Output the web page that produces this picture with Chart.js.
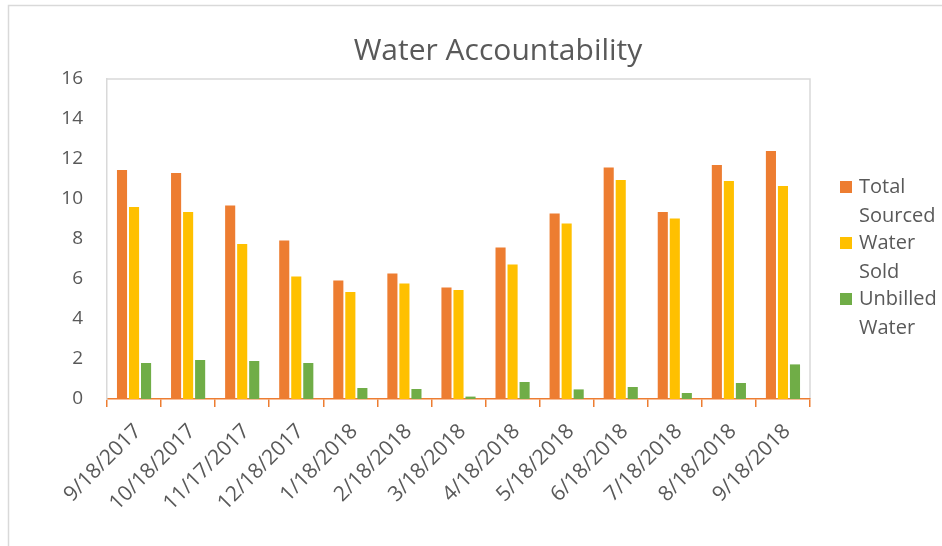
<!DOCTYPE html>
<html>
<head>
<meta charset="utf-8">
<title>Water Accountability</title>
<script src="https://cdn.jsdelivr.net/npm/chart.js@4.4.0/dist/chart.umd.min.js"></script>
<style>
  html, body { margin: 0; padding: 0; background: #fff; }
  #wrap { width: 942px; height: 546px; }
</style>
</head>
<body>
<div id="wrap"><canvas id="waterChart" width="942" height="546"></canvas></div>
<script>
// data
const dates = ['9/18/2017', '10/18/2017', '11/17/2017', '12/18/2017', '1/18/2018', '2/18/2018',
  '3/18/2018', '4/18/2018', '5/18/2018', '6/18/2018', '7/18/2018', '8/18/2018', '9/18/2018'];
const totalSourced = [11.45, 11.3, 9.67, 7.93, 5.93, 6.28, 5.57, 7.58, 9.28, 11.57, 9.35, 11.7, 12.4];
const waterSold = [9.6, 9.35, 7.75, 6.12, 5.35, 5.77, 5.45, 6.73, 8.78, 10.95, 9.03, 10.9, 10.65];
const unbilledWater = [1.8, 1.95, 1.9, 1.8, 0.55, 0.5, 0.12, 0.85, 0.48, 0.6, 0.3, 0.8, 1.73];
const seriesNames = ['Total Sourced', 'Water Sold', 'Unbilled Water'];
const chartTitle = 'Water Accountability';

const textColor = '#595959';
const frameColor = '#d9d9d9';
const fontFamily = '"Open Sans", "Noto Sans", sans-serif';

// frame lines, title and wrapped legend (Chart.js legend can't wrap labels)
const decorPlugin = {
    id: 'decor',
    beforeDraw(chart) {
        const c = chart.ctx;
        const a = chart.chartArea;
        c.save();
        c.strokeStyle = frameColor;
        c.lineWidth = 1.5;
        c.beginPath();
        c.moveTo(8.5, 546);
        c.lineTo(8.5, 5.5);
        c.lineTo(942, 5.5);
        c.stroke();
        c.beginPath();
        c.moveTo(a.left, a.top);
        c.lineTo(a.right, a.top);
        c.lineTo(a.right, a.bottom);
        c.stroke();
        c.restore();
    },
    afterDraw(chart) {
        const c = chart.ctx;
        c.save();
        c.fillStyle = textColor;
        c.font = '30px ' + fontFamily;
        c.textAlign = 'center';
        c.textBaseline = 'alphabetic';
        c.fillText(chartTitle, 498, 60);

        c.font = '20px ' + fontFamily;
        c.textAlign = 'left';
        c.textBaseline = 'middle';
        chart.data.datasets.forEach((ds, i) => {
            const y = 187 + i * 56;
            c.fillStyle = ds.backgroundColor;
            c.fillRect(840, y - 6, 12, 12);
            c.fillStyle = textColor;
            ds.label.split(' ').forEach((word, j) => {
                c.fillText(word, 859, y + j * 29);
            });
        });
        c.restore();
    }
};

const ctx = document.getElementById('waterChart').getContext('2d');
const waterChart = new Chart(ctx, {
    type: 'bar',
    data: {
        labels: dates,
        datasets: [
            { label: seriesNames[0], data: totalSourced, backgroundColor: '#ED7D31' },
            { label: seriesNames[1], data: waterSold, backgroundColor: '#FFC000' },
            { label: seriesNames[2], data: unbilledWater, backgroundColor: '#70AD47' }
        ]
    },
    options: {
        responsive: false,
        animation: false,
        layout: { padding: { top: 79, right: 132, left: 0, bottom: 0 } },
        datasets: {
            bar: { categoryPercentage: 0.667, barPercentage: 0.84 }
        },
        plugins: {
            legend: { display: false },
            title: { display: false },
            tooltip: { enabled: false }
        },
        scales: {
            x: {
                afterFit: function(scale) { scale.height = 147; },
                grid: {
                    color: '#ED7D31',
                    drawOnChartArea: false,
                    tickLength: 8,
                    lineWidth: 1.5
                },
                border: { color: '#ED7D31', width: 1.5 },
                ticks: {
                    color: textColor,
                    font: { family: fontFamily, size: 21 },
                    minRotation: 45,
                    maxRotation: 45,
                    autoSkip: false,
                    padding: 12,
                    labelOffset: 4
                }
            },
            y: {
                min: 0,
                max: 16,
                afterFit: function(scale) { scale.width = 107; },
                grid: { display: false, drawTicks: false },
                border: { color: frameColor, width: 1.5 },
                ticks: {
                    stepSize: 2,
                    color: textColor,
                    font: { family: fontFamily, size: 19 },
                    padding: 24
                }
            }
        }
    },
    plugins: [decorPlugin]
});
</script>
</body>
</html>
